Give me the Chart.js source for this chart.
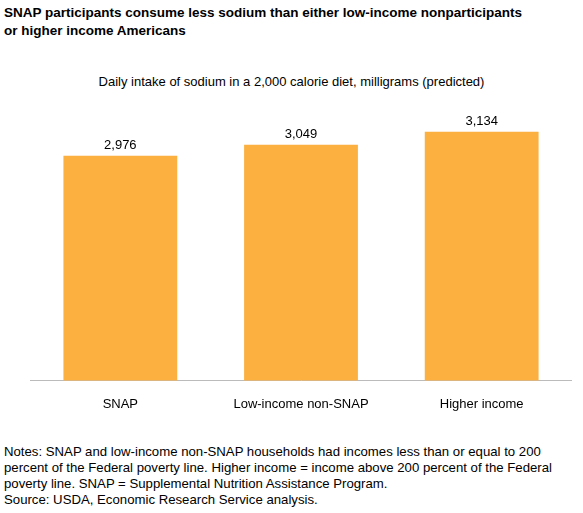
<!DOCTYPE html>
<html><head><meta charset="utf-8">
<script src="https://cdn.jsdelivr.net/npm/chart.js@4"></script>
<style>
body{margin:0;width:583px;height:513px;background:#fff;font-family:"Liberation Sans",Arial,sans-serif;color:#000;position:relative}
#title{position:absolute;left:4px;top:4px;font-weight:bold;font-size:13.5px;line-height:18px}
#sub{position:absolute;left:0;width:583px;top:74px;text-align:center;font-size:13px}
#wrap{position:absolute;left:30px;top:102px;width:542px;height:318px}
#notes{position:absolute;left:4px;top:444px;font-size:13.2px;line-height:16px;width:575px}
</style></head><body>
<div id="title">SNAP participants consume less sodium than either low-income nonparticipants<br>or higher income Americans</div>
<div id="sub">Daily intake of sodium in a 2,000 calorie diet, milligrams (predicted)</div>
<div id="wrap"><canvas id="c"></canvas></div>
<div id="notes">Notes: SNAP and low-income non-SNAP households had incomes less than or equal to 200 percent of the Federal poverty line. Higher income = income above 200 percent of the Federal poverty line. SNAP = Supplemental Nutrition Assistance Program.<br>Source: USDA, Economic Research Service analysis.</div>
<script>
const categories = ['SNAP', 'Low-income non-SNAP', 'Higher income'];
const sodium = [2976, 3049, 3134];

const valueLabels = {
  id: 'valueLabels',
  afterDatasetsDraw(chart) {
    const ctx = chart.ctx;
    ctx.save();
    ctx.font = '13px "Liberation Sans", Arial';
    ctx.fillStyle = '#000';
    ctx.textAlign = 'center';
    ctx.textBaseline = 'bottom';
    chart.getDatasetMeta(0).data.forEach((bar, i) => {
      ctx.fillText(sodium[i].toLocaleString('en-US'), bar.x, bar.y - 4);
    });
    ctx.restore();
  }
};

new Chart(document.getElementById('c'), {
  type: 'bar',
  data: {
    labels: categories,
    datasets: [{ data: sodium, backgroundColor: '#fbb040', barPercentage: 0.63, categoryPercentage: 1 }]
  },
  options: {
    responsive: true,
    maintainAspectRatio: false,
    animation: false,
    plugins: { legend: { display: false }, tooltip: { enabled: false } },
    scales: {
      x: {
        grid: { display: false },
        border: { color: '#bbb' },
        ticks: { color: '#000', font: { size: 13, family: '"Liberation Sans", Arial' }, padding: 8 }
      },
      y: { display: false, min: 1500, max: 3330 }
    }
  },
  plugins: [valueLabels]
});
</script>
</body></html>
